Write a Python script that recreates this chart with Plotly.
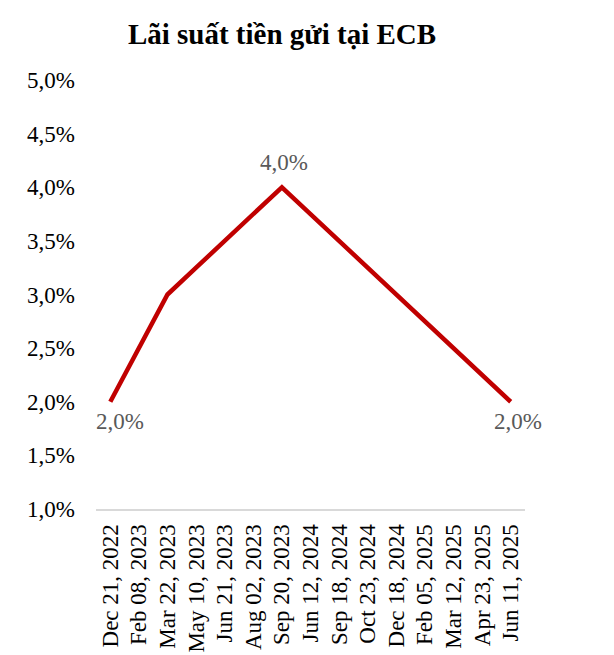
import plotly.graph_objects as go

dates = ["Dec 21, 2022", "Feb 08, 2023", "Mar 22, 2023", "May 10, 2023", "Jun 21, 2023",
         "Aug 02, 2023", "Sep 20, 2023", "Jun 12, 2024", "Sep 18, 2024", "Oct 23, 2024",
         "Dec 18, 2024", "Feb 05, 2025", "Mar 12, 2025", "Apr 23, 2025", "Jun 11, 2025"]
rates = [2.0, 2.5, 3.0, 3.25, 3.5, 3.75, 4.0, 3.75, 3.5, 3.25, 3.0, 2.75, 2.5, 2.25, 2.0]
labelled = [0, 6, 14]
y_ticks = [1.0, 1.5, 2.0, 2.5, 3.0, 3.5, 4.0, 4.5, 5.0]

FONT = "Liberation Serif, Times New Roman, serif"

# page has an 8px body margin, so the figure is sized/offset to compensate
W, H = 606, 647

fig = go.Figure()
fig.add_trace(go.Scatter(
    x=dates, y=rates, mode="lines",
    line=dict(color="#C00000", width=4.5),
    hoverinfo="skip", showlegend=False,
))

for i in labelled:
    is_peak = rates[i] == max(rates)
    fig.add_annotation(
        x=dates[i], y=rates[i], text=f"{rates[i]:.1f}%".replace(".", ","),
        showarrow=False, xanchor="center",
        yanchor="bottom" if is_peak else "top",
        yshift=10 if is_peak else -5,
        xshift=2 if is_peak else (10 if i == 0 else 7),
        font=dict(family=FONT, size=23, color="#595959"),
    )

fig.update_layout(
    width=W, height=H,
    margin=dict(l=88, r=89, t=72, b=146, autoexpand=False),
    paper_bgcolor="white", plot_bgcolor="white",
    separators=",.",
    title=dict(text="<b>Lãi suất tiền gửi tại ECB</b>", x=274/W, xanchor="center",
               y=1 - 26/H, yanchor="middle",
               font=dict(family=FONT, size=29, color="black")),
    font=dict(family=FONT, size=23, color="black"),
)
fig.update_xaxes(
    type="category", range=[-0.5, len(dates) - 0.5], automargin=False,
    tickangle=-90, showgrid=False, showline=True, linecolor="#D9D9D9", linewidth=2,
    ticks="", tickfont=dict(family=FONT, size=23, color="black"), zeroline=False,
    ticklabelstandoff=4,
)
fig.update_yaxes(
    range=[1.0, 5.0], tickvals=y_ticks, automargin=False,
    ticktext=[f"{t:.1f}%".replace(".", ",") for t in y_ticks],
    showgrid=False, showline=False, zeroline=False, ticks="",
    tickfont=dict(family=FONT, size=23, color="black"), ticklabelstandoff=20,
)

fig.write_html("out.html")
